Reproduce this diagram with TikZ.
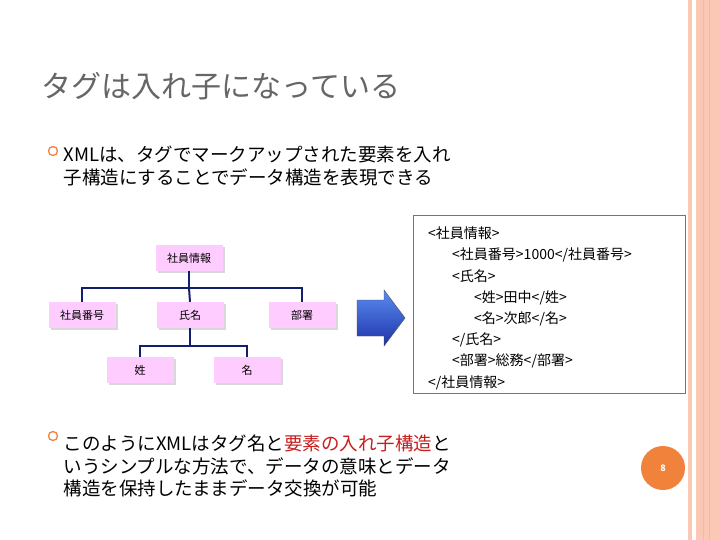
\documentclass[tikz,border=0pt]{standalone}
\usepackage{fontspec}
\setmainfont{Noto Sans CJK JP}
\usetikzlibrary{shadows}
\definecolor{stripe}{RGB}{250,200,180}
\definecolor{stripe2}{RGB}{245,185,160}
\definecolor{nodepink}{RGB}{255,204,255}
\definecolor{treeline}{RGB}{20,30,110}
\definecolor{orng}{RGB}{240,130,60}
\definecolor{redtxt}{RGB}{200,30,30}
\definecolor{boxline}{RGB}{190,60,220}
\definecolor{arrtop}{RGB}{90,140,240}
\definecolor{arrbot}{RGB}{30,50,170}
\begin{document}
\begin{tikzpicture}[x=1pt,y=-1pt,
  tn/.style={fill=nodepink,minimum width=67pt,minimum height=26pt,inner sep=0pt,font=\fontsize{11}{12}\selectfont,drop shadow={shadow xshift=2pt,shadow yshift=-2pt,fill=gray!60}},
  tl/.style={draw=treeline,line width=2pt},
  bul/.style={circle,draw=orng,line width=1.3pt,minimum size=9pt,inner sep=0pt},
  body/.style={anchor=west,font=\fontsize{18.5}{22.5}\selectfont,align=left},
  code/.style={anchor=west,font=\fontsize{14}{15}\selectfont,inner sep=0pt}]
\useasboundingbox (0,0) rectangle (720,540);
\fill[white] (0,0) rectangle (720,540);
% right stripes
\fill[stripe] (688,0) rectangle (692,540);
\fill[stripe] (696,0) rectangle (720,540);
\draw[stripe2,line width=1pt] (703,0) -- (703,540);
\draw[stripe2,line width=1pt] (709,0) -- (709,540);
% title
\node[anchor=west,text=gray!80!black,font=\fontsize{30}{33}\selectfont] (title) at (38,86) {タグは入れ子になっている};
% bullets
\node[bul] (b1) at (53,151) {};
\node[body] (t1) at (60,166) {XMLは、タグでマークアップされた要素を入れ\\子構造にすることでデータ構造を表現できる};
\node[bul] (b2) at (53,436) {};
\node[body] (t2) at (60,466) {このようにXMLはタグ名と\textcolor{redtxt}{要素の入れ子構造}と\\いうシンプルな方法で、データの意味とデータ\\構造を保持したままデータ交換が可能};
% tree
\node[tn] (n0) at (189,258) {社員情報};
\node[tn] (n1) at (82,315) {社員番号};
\node[tn] (n2) at (190,315) {氏名};
\node[tn] (n3) at (302,315) {部署};
\node[tn] (n4) at (140,370) {姓};
\node[tn] (n5) at (247,370) {名};
\draw[tl] (n0.south) -- (189,288) coordinate (j1);
\draw[tl] (n1.north) |- (j1) -| (n3.north);
\draw[tl] (j1) -- (n2.north);
\draw[tl] (n2.south) -- (190,346) coordinate (j2);
\draw[tl] (n4.north) |- (j2) -| (n5.north);
% arrow
\draw[black!70,top color=arrtop,bottom color=arrbot] (357,300) -- (384,300) -- (384,290) -- (405,318) -- (384,346) -- (384,336) -- (357,336) -- cycle;
% xml box
\draw[draw=boxline,line width=0.8pt] (413,215) rectangle (685,393);
\node[code] (c1) at (428,233) {<社員情報>};
\node[code] (c2) at (452,255) {<社員番号>1000</社員番号>};
\node[code] (c3) at (452,276) {<氏名>};
\node[code] (c4) at (474,298) {<姓>田中</姓>};
\node[code] (c5) at (474,319) {<名>次郎</名>};
\node[code] (c6) at (452,340) {</氏名>};
\node[code] (c7) at (452,361) {<部署>総務</部署>};
\node[code] (c8) at (428,383) {</社員情報>};
% page number
\node[circle,fill=orng,minimum size=44pt,text=white,font=\fontsize{9}{10}\bfseries] (pg) at (663,468) {8};
\end{tikzpicture}
\end{document}
